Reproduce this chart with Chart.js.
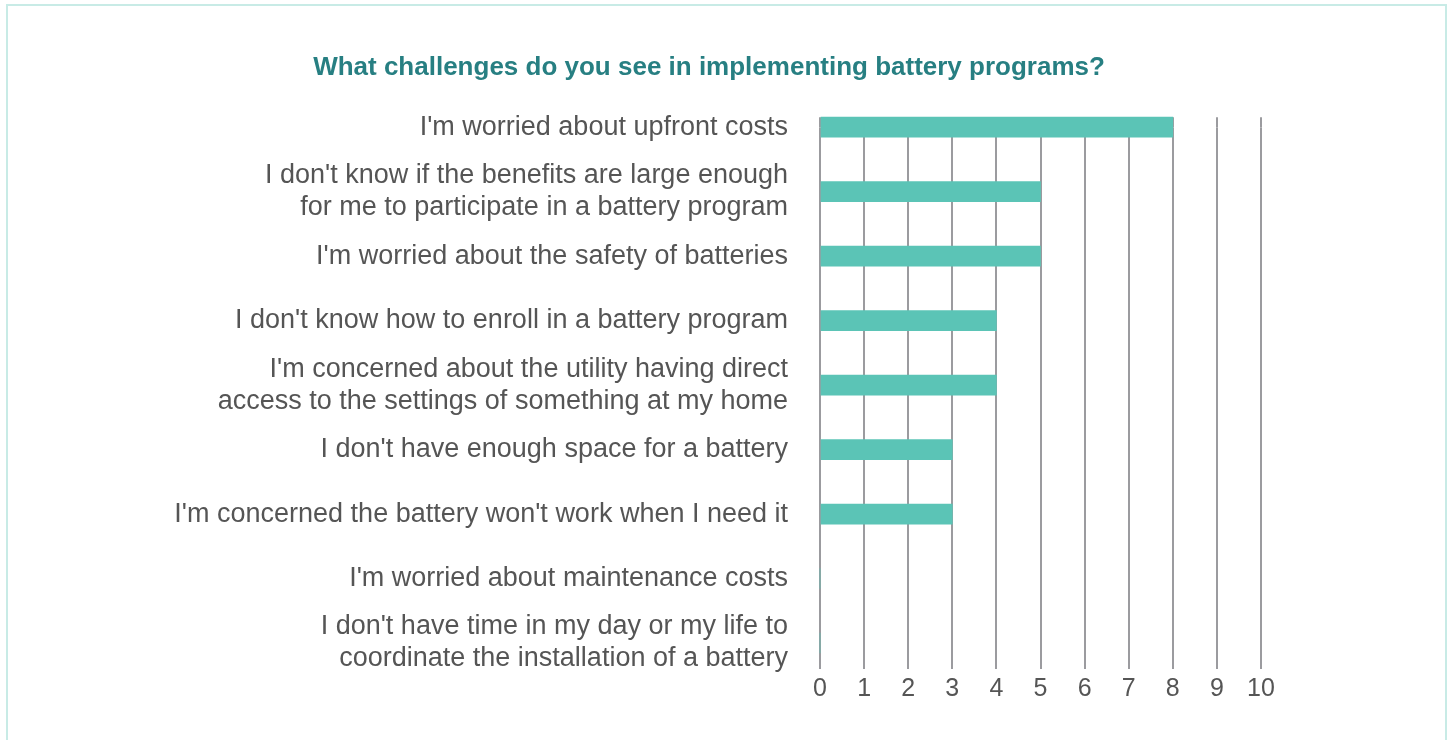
<!DOCTYPE html>
<html>
<head>
<meta charset="utf-8">
<title>Battery program challenges</title>
<script src="https://cdn.jsdelivr.net/npm/chart.js@4/dist/chart.umd.min.js"></script>
<style>
  html, body { margin: 0; padding: 0; background: #fff; overflow: hidden; }
  #card {
    position: absolute; left: 6px; top: 4px; width: 1437px; height: 800px;
    border: 2px solid #c8ebe6; border-bottom: none;
  }
  #wrap { position: absolute; left: 0; top: 0; width: 1453px; height: 740px; }
</style>
</head>
<body>
<div id="card"></div>
<div id="wrap"><canvas id="chart" width="1453" height="740"></canvas></div>
<script>
// Survey: "What challenges do you see in implementing battery programs?"
const TITLE = 'What challenges do you see in implementing battery programs?';

const categories = [
  "I'm worried about upfront costs",
  ["I don't know if the benefits are large enough", 'for me to participate in a battery program'],
  "I'm worried about the safety of batteries",
  "I don't know how to enroll in a battery program",
  ["I'm concerned about the utility having direct", 'access to the settings of something at my home'],
  "I don't have enough space for a battery",
  "I'm concerned the battery won't work when I need it",
  "I'm worried about maintenance costs",
  ["I don't have time in my day or my life to", 'coordinate the installation of a battery'],
];
const responses = [8, 5, 5, 4, 4, 3, 3, 0, 0];

const X_MIN = 0;
const X_MAX = 10;
const X_STEP = 1;

const BAR_COLOR = '#5bc4b6';
const GRID_COLOR = '#9b9b9f';
const TEXT_COLOR = '#555555';
const TITLE_COLOR = '#277f82';
const FONT = '"Liberation Sans", Arial, Helvetica, sans-serif';

new Chart(document.getElementById('chart'), {
  type: 'bar',
  data: {
    labels: categories,
    datasets: [{
      data: responses,
      backgroundColor: BAR_COLOR,
      borderWidth: 0,
      barThickness: 20,
      clip: false,
    }],
  },
  options: {
    indexAxis: 'y',
    responsive: false,
    animation: false,
    layout: { padding: { left: 157, right: 192, top: 0, bottom: 31 } },
    plugins: {
      legend: { display: false },
      tooltip: { enabled: false },
      title: {
        display: true,
        text: TITLE,
        color: TITLE_COLOR,
        font: { family: FONT, size: 26, weight: 'bold' },
        padding: { top: 52, bottom: 34 },
      },
    },
    scales: {
      x: {
        min: X_MIN,
        max: X_MAX,
        offset: false,
        border: { display: false },
        grid: { color: GRID_COLOR, lineWidth: 2, drawTicks: true, tickLength: 26, tickColor: GRID_COLOR },
        ticks: {
          stepSize: X_STEP,
          color: TEXT_COLOR,
          padding: 5,
          maxRotation: 0,
          font: { family: FONT, size: 25 },
        },
      },
      // top axis only to let the grid lines run up behind the first bar
      xTop: {
        position: 'top',
        min: X_MIN,
        max: X_MAX,
        offset: false,
        border: { display: false },
        grid: { drawOnChartArea: false, drawTicks: true, tickLength: 10, tickColor: GRID_COLOR, lineWidth: 2 },
        ticks: { stepSize: X_STEP, display: false },
      },
      y: {
        offset: false,
        border: { display: false },
        grid: { display: false, drawTicks: false },
        ticks: {
          color: TEXT_COLOR,
          padding: 32,
          autoSkip: false,
          font: { family: FONT, size: 27, lineHeight: 1.185 },
        },
        afterFit(scale) { scale.width = 663; },
      },
    },
  },
});
</script>
</body>
</html>
